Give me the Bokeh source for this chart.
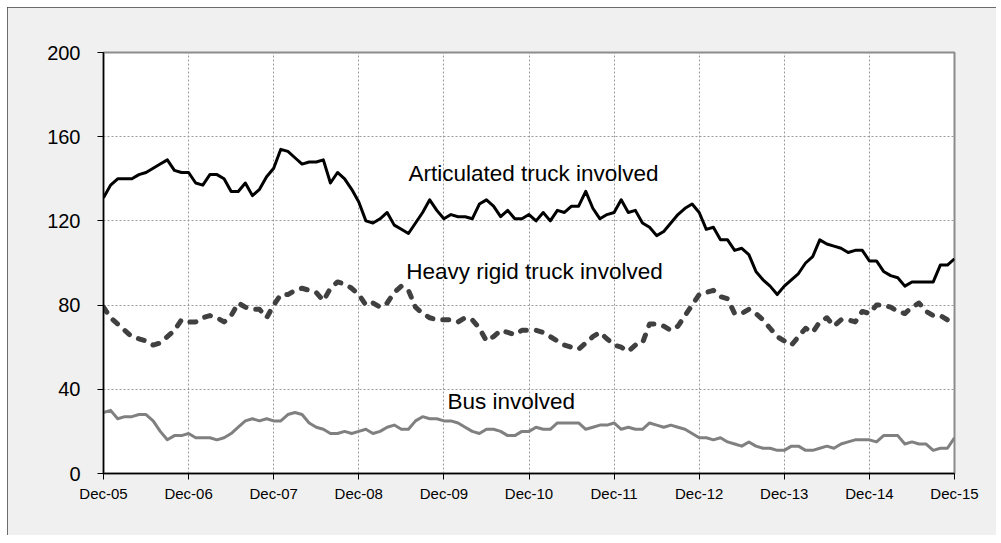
from bokeh.plotting import figure
from bokeh.models import FixedTicker, Range1d, ColumnDataSource
from bokeh.core.properties import value
from bokeh.embed import file_html
from bokeh.resources import INLINE

tick_labels = ["Dec-05", "Dec-06", "Dec-07", "Dec-08", "Dec-09", "Dec-10",
               "Dec-11", "Dec-12", "Dec-13", "Dec-14", "Dec-15"]

articulated = [131, 137, 140, 140, 140, 142, 143, 145, 147, 149,
               144, 143, 143, 138, 137, 142, 142, 140, 134, 134,
               138, 132, 135, 141, 145, 154, 153, 150, 147, 148,
               148, 149, 138, 143, 140, 135, 129, 120, 119, 121,
               124, 118, 116, 114, 119, 124, 130, 125, 121, 123,
               122, 122, 121, 128, 130, 127, 122, 125, 121, 121,
               123, 120, 124, 120, 125, 124, 127, 127, 134, 126,
               121, 123, 124, 130, 124, 125, 119, 117, 113, 115,
               119, 123, 126, 128, 124, 116, 117, 111, 111, 106,
               107, 104, 96, 92, 89, 85, 89, 92, 95, 100,
               103, 111, 109, 108, 107, 105, 106, 106, 101, 101,
               96, 94, 93, 89, 91, 91, 91, 91, 99, 99, 102]

heavy_rigid = [79, 74, 71, 68, 65, 64, 63, 61, 62, 65,
               68, 73, 72, 72, 74, 75, 74, 72, 75, 81,
               79, 78, 78, 74, 80, 85, 85, 87, 88, 87,
               86, 82, 88, 91, 90, 88, 85, 80, 81, 79,
               81, 86, 89, 87, 79, 76, 74, 73, 73, 73,
               72, 74, 73, 69, 63, 65, 68, 67, 66, 68,
               68, 68, 67, 65, 63, 61, 60, 59, 62, 65,
               67, 64, 61, 60, 58, 61, 62, 71, 71, 70,
               68, 70, 75, 80, 85, 86, 87, 84, 83, 76,
               76, 78, 76, 73, 69, 65, 63, 61, 65, 69,
               67, 72, 74, 70, 73, 73, 72, 77, 76, 80,
               80, 79, 77, 76, 79, 81, 77, 75, 75, 73, 72]

bus = [29, 30, 26, 27, 27, 28, 28, 25, 20, 16,
       18, 18, 19, 17, 17, 17, 16, 17, 19, 22,
       25, 26, 25, 26, 25, 25, 28, 29, 28, 24,
       22, 21, 19, 19, 20, 19, 20, 21, 19, 20,
       22, 23, 21, 21, 25, 27, 26, 26, 25, 25,
       24, 22, 20, 19, 21, 21, 20, 18, 18, 20,
       20, 22, 21, 21, 24, 24, 24, 24, 21, 22,
       23, 23, 24, 21, 22, 21, 21, 24, 23, 22,
       23, 22, 21, 19, 17, 17, 16, 17, 15, 14,
       13, 15, 13, 12, 12, 11, 11, 13, 13, 11,
       11, 12, 13, 12, 14, 15, 16, 16, 16, 15,
       18, 18, 18, 14, 15, 14, 14, 11, 12, 12, 17]

series_labels = ["Articulated truck involved", "Heavy rigid truck involved", "Bus involved"]
label_x = [43.0, 42.7, 48.5]
label_y = [142.5, 96.0, 34.3]

months = list(range(len(articulated)))
year_ticks = list(range(0, len(articulated), 12))
y_ticks = [0, 40, 80, 120, 160, 200]

FONT = "Liberation Sans"

p = figure(width=989, height=528, output_backend="svg", toolbar_location=None,
           x_range=Range1d(0, 120), y_range=Range1d(0, 200),
           min_border_left=96, min_border_right=42, min_border_top=45, min_border_bottom=62)
p.styles = {"margin-left": "7px", "margin-top": "7px",
            "outline": "1px solid #404040", "outline-offset": "-1px"}
p.border_fill_color = "#f0f0f0"
p.background_fill_color = "white"
p.outline_line_color = "#8c8c8c"
p.outline_line_width = 2

src = ColumnDataSource(dict(m=months, a=articulated, h=heavy_rigid, b=bus))
p.line("m", "b", source=src, line_color="#808080", line_width=3, line_join="round")
p.line("m", "h", source=src, line_color="#404040", line_width=5, line_dash="6 10",
       line_cap="round", line_join="round")
p.line("m", "a", source=src, line_color="black", line_width=3, line_join="round")

p.text(x=label_x, y=label_y, text=series_labels, text_font=value(FONT),
       text_font_size="22.5px", text_color="black", text_align="left",
       text_baseline="alphabetic")

p.xaxis.ticker = FixedTicker(ticks=year_ticks)
p.xaxis.major_label_overrides = {t: lab for t, lab in zip(year_ticks, tick_labels)}
p.yaxis.ticker = FixedTicker(ticks=y_ticks)

for ax in (p.xaxis[0], p.yaxis[0]):
    ax.axis_line_color = "black"
    ax.axis_line_width = 1.5
    ax.major_tick_line_color = "black"
    ax.major_tick_out = 6
    ax.major_tick_in = 0
    ax.minor_tick_line_color = None
    ax.major_label_text_font = FONT
    ax.major_label_text_color = "black"

p.xaxis.major_label_text_font_size = "15px"
p.xaxis.major_label_standoff = 5
p.yaxis.major_label_text_font_size = "20px"
p.yaxis.major_label_standoff = 17

for g in (p.xgrid[0], p.ygrid[0]):
    g.grid_line_color = "#9a9a9a"
    g.grid_line_dash = "2 2"
    g.grid_line_width = 1

open("out.html", "w").write(file_html(p, INLINE))
